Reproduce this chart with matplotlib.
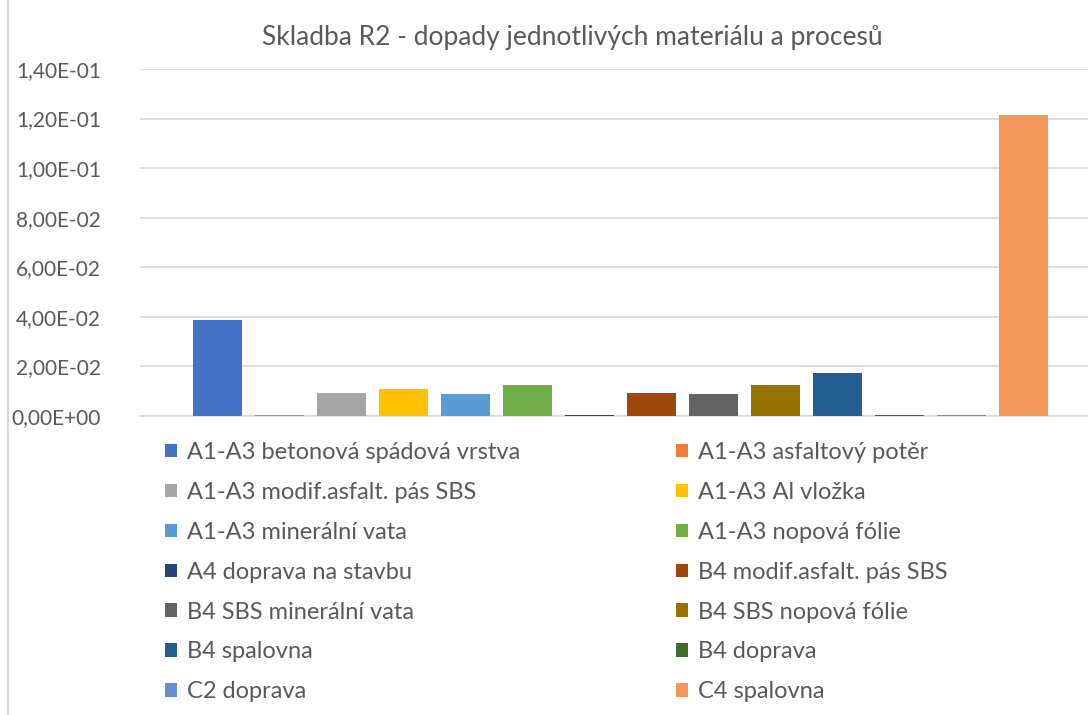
import matplotlib.pyplot as plt
from matplotlib.lines import Line2D
from matplotlib.ticker import FuncFormatter

plt.rcParams['font.family'] = ['Lato', 'DejaVu Sans']

# data
labels = [
    'A1-A3 betonová spádová vrstva', 'A1-A3 asfaltový potěr',
    'A1-A3 modif.asfalt. pás SBS', 'A1-A3 Al vložka',
    'A1-A3 minerální vata', 'A1-A3 nopová fólie',
    'A4 doprava na stavbu', 'B4 modif.asfalt. pás SBS',
    'B4 SBS minerální vata', 'B4 SBS nopová fólie',
    'B4 spalovna', 'B4 doprava',
    'C2 doprava', 'C4 spalovna',
]
values = [0.0387, 0.0005, 0.0093, 0.0107, 0.0089, 0.0125, 0.0005,
          0.0093, 0.0089, 0.0125, 0.0175, 0.0005, 0.0005, 0.1214]
colors = ['#4472C4', '#ED7D31', '#A5A5A5', '#FFC000', '#5B9BD5', '#70AD47',
          '#264478', '#9E480E', '#636363', '#997300', '#255E91', '#43682B',
          '#698ED0', '#F1975A']

txt = '#595959'
grid = '#D9D9D9'

fig = plt.figure(figsize=(10.88, 7.15), dpi=100)
ax = fig.add_axes([140/1088, 299/715, 948/1088, 347/715])

bars = []
for i, (lab, v, c) in enumerate(zip(labels, values, colors)):
    b = ax.bar(i, v, width=0.79, color=c, label=lab, zorder=3)
    bars.append(b)

ax.set_xlim(-1.25, 14.04)
ax.set_ylim(0, 0.14)
ax.set_yticks([i * 0.02 for i in range(8)])
ax.yaxis.set_major_formatter(FuncFormatter(lambda v, p: f'{v:.2E}'.replace('.', ',')))
ax.tick_params(axis='y', length=0, labelsize=15, colors=txt, pad=28)
ax.set_xticks([])
ax.grid(axis='y', color=grid, linewidth=1.2, zorder=0)
for s in ['top', 'right', 'left']:
    ax.spines[s].set_visible(False)
ax.spines['bottom'].set_color(grid)
ax.spines['bottom'].set_linewidth(1.2)

fig.text(572/1088, 1 - 38/715, 'Skladba R2 - dopady jednotlivých materiálu a procesů',
         ha='center', va='center', fontsize=19, color=txt)

# legend in two columns, row-major order like Excel
for col, x0 in [(0, 165), (1, 676)]:
    idx = list(range(col, 14, 2))
    leg = fig.legend([bars[i] for i in idx], [labels[i] for i in idx],
                     loc='upper left', bbox_to_anchor=(x0/1088, 1 - 442/715),
                     frameon=False, fontsize=17, handlelength=0.5, handleheight=0.5,
                     handletextpad=0.45, labelspacing=0.8, borderpad=0, borderaxespad=0)
    for t in leg.get_texts():
        t.set_color(txt)

# chart area border on the left
fig.add_artist(Line2D([8/1088, 8/1088], [0, 1], color=grid, linewidth=1.5))

fig.savefig('out.png', dpi=100)
